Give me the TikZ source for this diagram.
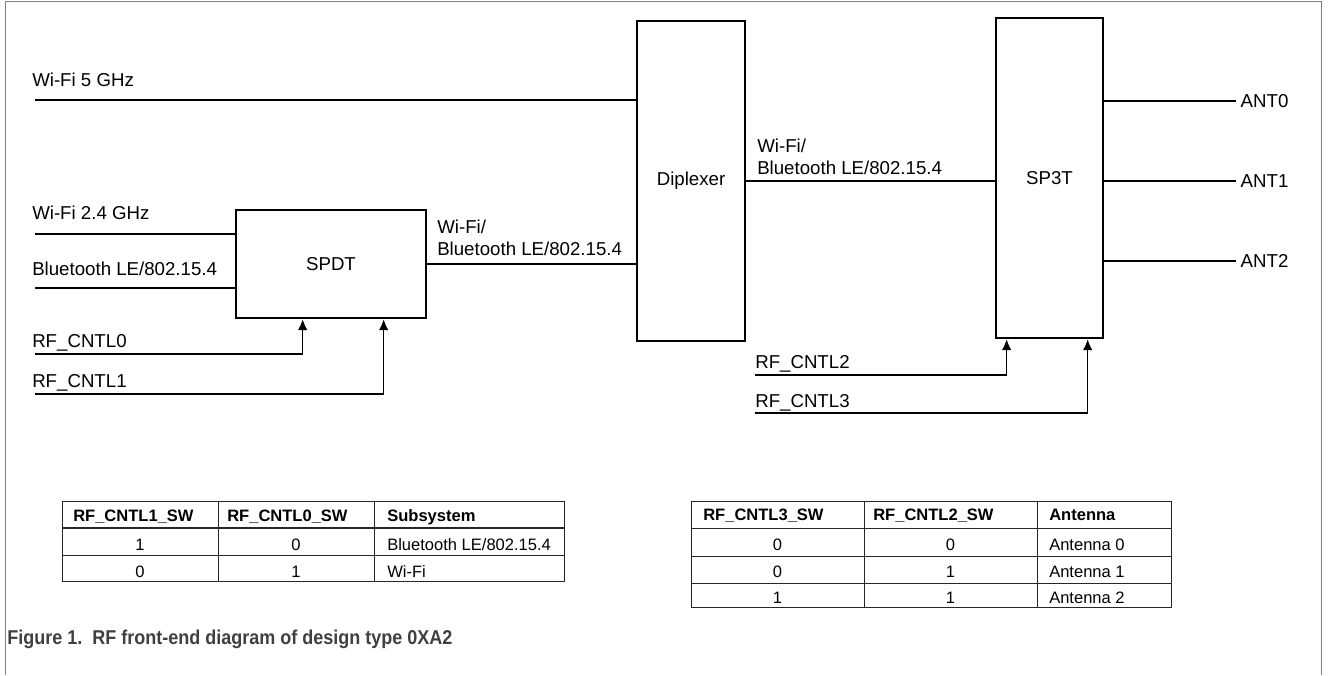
\documentclass[tikz,border=0pt]{standalone}
\usepackage{fontspec}
\setmainfont{Liberation Sans}
\usetikzlibrary{arrows.meta}

\begin{document}
\begin{tikzpicture}[
  x=0.75pt, y=-0.75pt,
  >={Latex[length=8pt,width=7pt]},
  font=\fontsize{14}{16.1}\selectfont,
  box/.style={draw, line width=2pt, align=center},
  lbl/.style={anchor=base west, inner sep=0pt, align=left},
  wire/.style={line width=0.8pt},
  arrow/.style={->, line width=0.8pt},
  tabline/.style={line width=0.75pt, draw=black!85},
  cell/.style={anchor=base, inner sep=0pt, font=\fontsize{12.4}{15}\selectfont},
  celltxt/.style={anchor=base west, inner sep=0pt, font=\fontsize{12.4}{15}\selectfont},
  head/.style={anchor=base west, inner sep=0pt, font=\fontsize{12.4}{15}\selectfont\bfseries}
]
\useasboundingbox (0,0) rectangle (1328,675);
\draw[black!50, line width=0.75pt] (5,675) -- (5,1) -- (1321,1) -- (1321,675);

% switches
\node[box, minimum width=142.5pt, minimum height=81pt] (spdt) at (331,264) {SPDT};
\node[box, minimum width=81pt, minimum height=240pt] (dip) at (691,181) {Diplexer};
\node[box, minimum width=80.25pt, minimum height=240pt] (sp3t) at (1049.5,178) {SP3T};

% inputs
\node[lbl] (w5lbl) at (32,86) {Wi-Fi 5 GHz};
\coordinate (w5) at (35,100);
\draw[wire] (w5) -- (w5 -| dip.west);

\node[lbl] (w24lbl) at (32,219) {Wi-Fi 2.4 GHz};
\coordinate (w24) at (35,234);
\draw[wire] (w24) -- (w24 -| spdt.west);

\node[lbl] (btlbl) at (32,275) {Bluetooth LE/802.15.4};
\coordinate (bt) at (35,288);
\draw[wire] (bt) -- (bt -| spdt.west);

\node[lbl] (c0lbl) at (32,347) {RF\_CNTL0};
\coordinate (c0) at (35,354);
\draw[arrow] (c0) -| ([xshift=51pt]spdt.south west);

\node[lbl] (c1lbl) at (32,387) {RF\_CNTL1};
\coordinate (c1) at (35,394);
\draw[arrow] (c1) -| ([xshift=111.75pt]spdt.south west);

% between the switches
\draw[wire] (spdt.east) -- (spdt.east -| dip.west);
\node[lbl] (mid1) at (437,255) {Wi-Fi/\\Bluetooth LE/802.15.4};

\draw[wire] (dip.east) -- (dip.east -| sp3t.west);
\node[lbl] (mid2) at (757,174) {Wi-Fi/\\Bluetooth LE/802.15.4};

% antennas
\node[anchor=west] (ant0) at (1236,101) {ANT0};
\node[anchor=west] (ant1) at (1236,181) {ANT1};
\node[anchor=west] (ant2) at (1236,261) {ANT2};
\draw[wire] (ant0.west -| sp3t.east) -- (ant0.west);
\draw[wire] (ant1.west -| sp3t.east) -- (ant1.west);
\draw[wire] (ant2.west -| sp3t.east) -- (ant2.west);

\node[lbl] (c2lbl) at (755,368) {RF\_CNTL2};
\coordinate (c2) at (755,375);
\draw[arrow] (c2) -| ([xshift=9pt]sp3t.south west);

\node[lbl] (c3lbl) at (755,407) {RF\_CNTL3};
\coordinate (c3) at (755,413);
\draw[arrow] (c3) -| ([xshift=69.75pt]sp3t.south west);

% SPDT truth table
\draw[tabline] (62,501) rectangle (564,581);
\draw[tabline] (218,501) -- (218,581) (374,501) -- (374,581) (62,555) -- (564,555);
\draw[tabline, line width=1.6pt] (62,528) -- (564,528);
\node[head] (lh1) at (73,521) {RF\_CNTL1\_SW};
\node[head] (lh2) at (227,521) {RF\_CNTL0\_SW};
\node[head] (lh3) at (387,521) {Subsystem};
\node[cell] (la1) at (140,550) {1};
\node[cell] (la2) at (296,550) {0};
\node[celltxt] (la3) at (387,550) {Bluetooth LE/802.15.4};
\node[cell] (lb1) at (140,577) {0};
\node[cell] (lb2) at (296,577) {1};
\node[celltxt] (lb3) at (387,577) {Wi-Fi};

% SP3T truth table
\draw[tabline] (691,501) rectangle (1171,607);
\draw[tabline] (864,501) -- (864,607) (1037,501) -- (1037,607);
\draw[tabline] (691,528) -- (1171,528) (691,556) -- (1171,556) (691,583) -- (1171,583);
\node[head] (rh1) at (703,520) {RF\_CNTL3\_SW};
\node[head] (rh2) at (873,520) {RF\_CNTL2\_SW};
\node[head] (rh3) at (1049,520) {Antenna};
\foreach \a/\b/\n/\yy in {0/0/0/550, 0/1/1/577, 1/1/2/603} {
  \node[cell] (r\n a) at (777.5,\yy) {\a};
  \node[cell] (r\n b) at (950.5,\yy) {\b};
  \node[celltxt] (r\n c) at (1049,\yy) {Antenna \n};
}

\node[anchor=base west, inner sep=0pt, text=black!75, font=\fontsize{15}{18}\selectfont\bfseries] (cap) at (7,644)
  {\scalebox{0.9}[1]{Figure 1.\ \ RF front-end diagram of design type 0XA2}};
\end{tikzpicture}
\end{document}
